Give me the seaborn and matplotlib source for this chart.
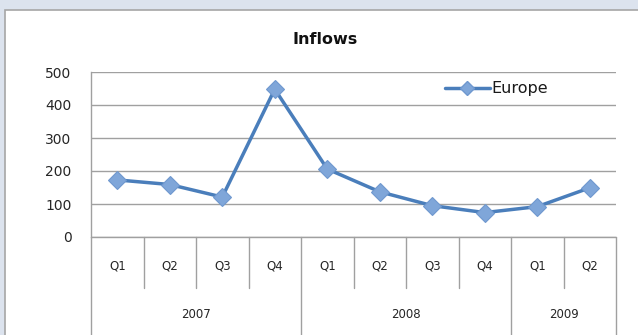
import matplotlib
matplotlib.use("Agg")
import matplotlib.pyplot as plt
import matplotlib.transforms as mtransforms
from matplotlib.patches import Rectangle
from matplotlib.lines import Line2D
import seaborn as sns
import pandas as pd

# Quarterly inflows, Europe
quarters = ["Q1", "Q2", "Q3", "Q4", "Q1", "Q2", "Q3", "Q4", "Q1", "Q2"]
years = ["2007", "2008", "2009"]
quarters_per_year = [4, 4, 2]
europe = [173, 159, 121, 448, 206, 137, 95, 74, 92, 149]

sns.set_theme(style="white")
plt.rcParams["font.family"] = ["DejaVu Sans"]

W, H = 638, 335
fig = plt.figure(figsize=(W / 100, H / 100), dpi=100)
fig.patch.set_facecolor("#dce3ee")

def fx(px):
    return px / W

def fy(py):
    return 1 - py / H

# white chart area with grey frame
fig.patches.append(Rectangle((fx(5), fy(H + 5)), fx(W), fy(10) - fy(H + 5),
                             transform=fig.transFigure, facecolor="white",
                             edgecolor="#a6a6a6", linewidth=1.2, zorder=-5))

left, right, top, bottom = 91, 616, 72, 237
ax = fig.add_axes([fx(left), fy(bottom), fx(right) - fx(left), fy(top) - fy(bottom)])
ax.set_zorder(2)
ax.set_facecolor("none")

df = pd.DataFrame({"pos": range(len(europe)), "value": europe, "series": "Europe"})
sns.lineplot(data=df, x="pos", y="value", hue="series", palette=["#4a7ebb"],
             marker="D", markersize=9, markerfacecolor="#7fa6d9",
             markeredgecolor="#6f98cf", markeredgewidth=0.8,
             linewidth=2.5, ax=ax, legend=False, zorder=3)

ax.set_xlim(-0.5, len(europe) - 0.5)
ax.set_ylim(0, 500)
ax.set_yticks(range(0, 501, 100))
ax.set_xticks([])
ax.set_xlabel("")
ax.set_ylabel("")
ax.tick_params(axis="y", length=0, pad=14, labelsize=10, labelcolor="#262626")
ax.grid(axis="y", color="#a0a0a0", linewidth=1.0)
ax.axhline(0, color="#a0a0a0", linewidth=1.0, clip_on=False, zorder=1)
for side in ["top", "right", "bottom"]:
    ax.spines[side].set_visible(False)
ax.spines["left"].set_color("#a0a0a0")
ax.spines["left"].set_linewidth(1.0)

# category table below the plot: quarters on the first row, years on the second
trans = mtransforms.blended_transform_factory(ax.transData, ax.transAxes)
ph = bottom - top
q_bottom = -(288 - bottom) / ph
y_bottom = -(H + 5 - bottom) / ph
q_text = -(266 - bottom) / ph
y_text = -(315 - bottom) / ph

boundaries = [-0.5]
acc = -0.5
for n in quarters_per_year:
    acc += n
    boundaries.append(acc)

for i in range(len(quarters) + 1):
    xb = i - 0.5
    y0 = y_bottom if xb in boundaries else q_bottom
    ax.plot([xb, xb], [0, y0], transform=trans, color="#a0a0a0",
            linewidth=1.0, clip_on=False)

for i, q in enumerate(quarters):
    ax.text(i, q_text, q, transform=trans, ha="center", va="center",
            fontsize=8.5, color="#262626")

for j, yr in enumerate(years):
    mid = (boundaries[j] + boundaries[j + 1]) / 2
    ax.text(mid, y_text, yr, transform=trans, ha="center", va="center",
            fontsize=8.5, color="#262626")

# legend
handle = Line2D([], [], color="#4a7ebb", linewidth=2.5, marker="D",
                markersize=7, markerfacecolor="#7fa6d9", markeredgecolor="#6f98cf")
fig.legend([handle], ["Europe"], loc="center left",
           bbox_to_anchor=(fx(437), fy(89)), frameon=False, fontsize=11.5,
           handlelength=2.8, handletextpad=0.1, borderpad=0,
           labelcolor="#1a1a1a")

fig.text(fx(325), fy(40), "Inflows", ha="center", va="center",
         fontsize=11.5, fontweight="bold", color="#111111")

fig.savefig("out.png", dpi=100, facecolor=fig.get_facecolor())
